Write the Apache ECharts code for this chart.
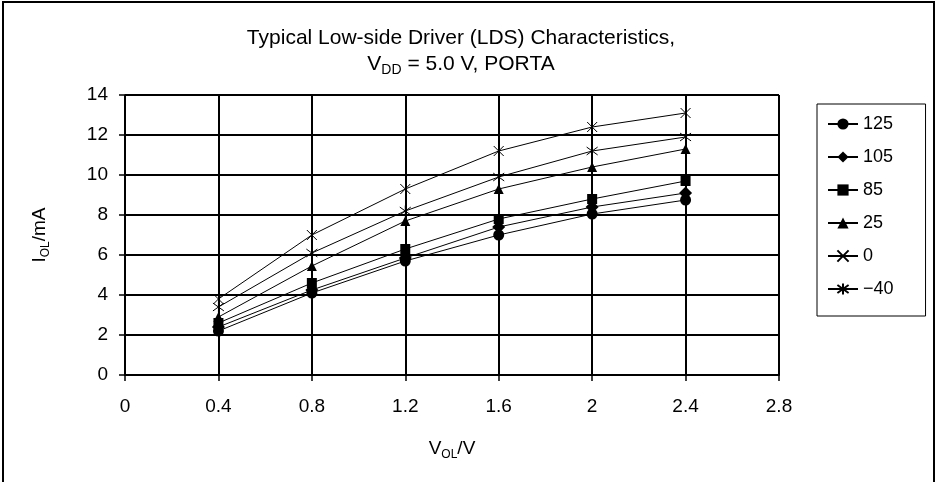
<!DOCTYPE html>
<html>
<head>
<meta charset="utf-8">
<script src="https://cdn.jsdelivr.net/npm/echarts@6/dist/echarts.min.js"></script>
<style>
  html, body { margin: 0; padding: 0; background: #fff; }
  #chart { width: 937px; height: 482px; }
</style>
</head>
<body>
<div id="chart"></div>
<script>
// V_OL (V) sample points
const vol = [0.4, 0.8, 1.2, 1.6, 2.0, 2.4];

// I_OL (mA) per temperature
const t125 = [2.2, 4.1, 5.7, 7.0, 8.05, 8.75];
const t105 = [2.4, 4.25, 5.85, 7.4, 8.4, 9.1];
const t85 = [2.6, 4.6, 6.3, 7.8, 8.8, 9.7];
const t25 = [2.9, 5.45, 7.7, 9.3, 10.4, 11.3];
const t0 = [3.8, 7.0, 9.3, 11.2, 12.4, 13.1];
const tm40 = [3.4, 6.1, 8.2, 9.9, 11.2, 11.9];

const seriesNames = ['125', '105', '85', '25', '0', '\u221240'];
const seriesData = [t125, t105, t85, t25, t0, tm40];

const FONT = 'Liberation Sans';
const crossPath = 'path://M0,0L10,10M10,0L0,10';
const starPath = 'path://M0,0L10,10M10,0L0,10M5,-2L5,12';
const symbols = ['circle', 'diamond', 'rect', 'triangle', crossPath, starPath];
const sizes = [11, 13, 10, 10, 10, 11];

function subRich(size) {
    return {
        sub: { fontSize: Math.round(size * 0.65), fontFamily: FONT, color: '#000', verticalAlign: 'bottom', lineHeight: size + 5 },
        m: { fontSize: size, fontFamily: FONT, color: '#000', lineHeight: size + 5 }
    };
}

const chart = echarts.init(document.getElementById('chart'));

const series = seriesNames.map((name, i) => {
    const stroked = i >= 4;
    return {
        name: name,
        type: 'line',
        data: vol.map((v, j) => [v, seriesData[i][j]]),
        symbol: symbols[i],
        symbolSize: sizes[i],
        showSymbol: true,
        lineStyle: { color: '#000', width: 1 },
        itemStyle: stroked
            ? { color: 'rgba(0,0,0,0)', borderColor: '#000', borderWidth: 1 }
            : { color: '#000', borderWidth: 0 },
        emphasis: { disabled: true },
        animation: false
    };
});

chart.setOption({
    animation: false,
    backgroundColor: '#fff',
    textStyle: { fontFamily: FONT, color: '#000' },
    title: {
        text: '{m|Typical Low-side Driver (LDS) Characteristics,}\n{m|V}{sub|DD}{m| = 5.0 V, PORTA}',
        left: 456,
        top: 20,
        textAlign: 'center',
        textStyle: { rich: subRich(21), fontSize: 21, fontWeight: 'normal', lineHeight: 26 }
    },
    graphic: [{
        type: 'rect',
        shape: { x: 3, y: 2, width: 931, height: 520 },
        style: { fill: 'none', stroke: '#000', lineWidth: 2 },
        silent: true
    }],
    grid: { left: 125, right: 158, top: 95, bottom: 107 },
    legend: {
        orient: 'vertical',
        left: 817,
        top: 104,
        padding: [11, 32, 18, 10],
        itemWidth: 30,
        itemHeight: 14,
        itemGap: 15,
        borderColor: '#000',
        borderWidth: 1,
        borderRadius: 0,
        textStyle: { fontFamily: FONT, fontSize: 18, color: '#000' },
        data: seriesNames
    },
    xAxis: {
        type: 'value',
        min: 0,
        max: 2.8,
        interval: 0.4,
        name: '{m|V}{sub|OL}{m|/V}',
        nameLocation: 'middle',
        nameGap: 62,
        nameTextStyle: { rich: subRich(19) },
        axisLine: { show: true, lineStyle: { color: '#000', width: 2 } },
        axisTick: { show: true, inside: false, length: 6, lineStyle: { color: '#000', width: 1.5 } },
        axisLabel: { color: '#000', fontSize: 19, fontFamily: FONT, margin: 22 },
        splitLine: { show: true, lineStyle: { color: '#000', width: 2 } }
    },
    yAxis: {
        type: 'value',
        min: 0,
        max: 14,
        interval: 2,
        name: '{m|I}{sub|OL}{m|/mA}',
        nameLocation: 'middle',
        nameGap: 73,
        nameRotate: 90,
        nameTextStyle: { rich: subRich(19) },
        axisLine: { show: true, lineStyle: { color: '#000', width: 1.5 } },
        axisTick: { show: true, inside: false, length: 6, lineStyle: { color: '#000', width: 1.5 } },
        axisLabel: { color: '#000', fontSize: 19, fontFamily: FONT, margin: 17 },
        splitLine: { show: true, lineStyle: { color: '#000', width: 2 } }
    },
    series: series
});
</script>
</body>
</html>
